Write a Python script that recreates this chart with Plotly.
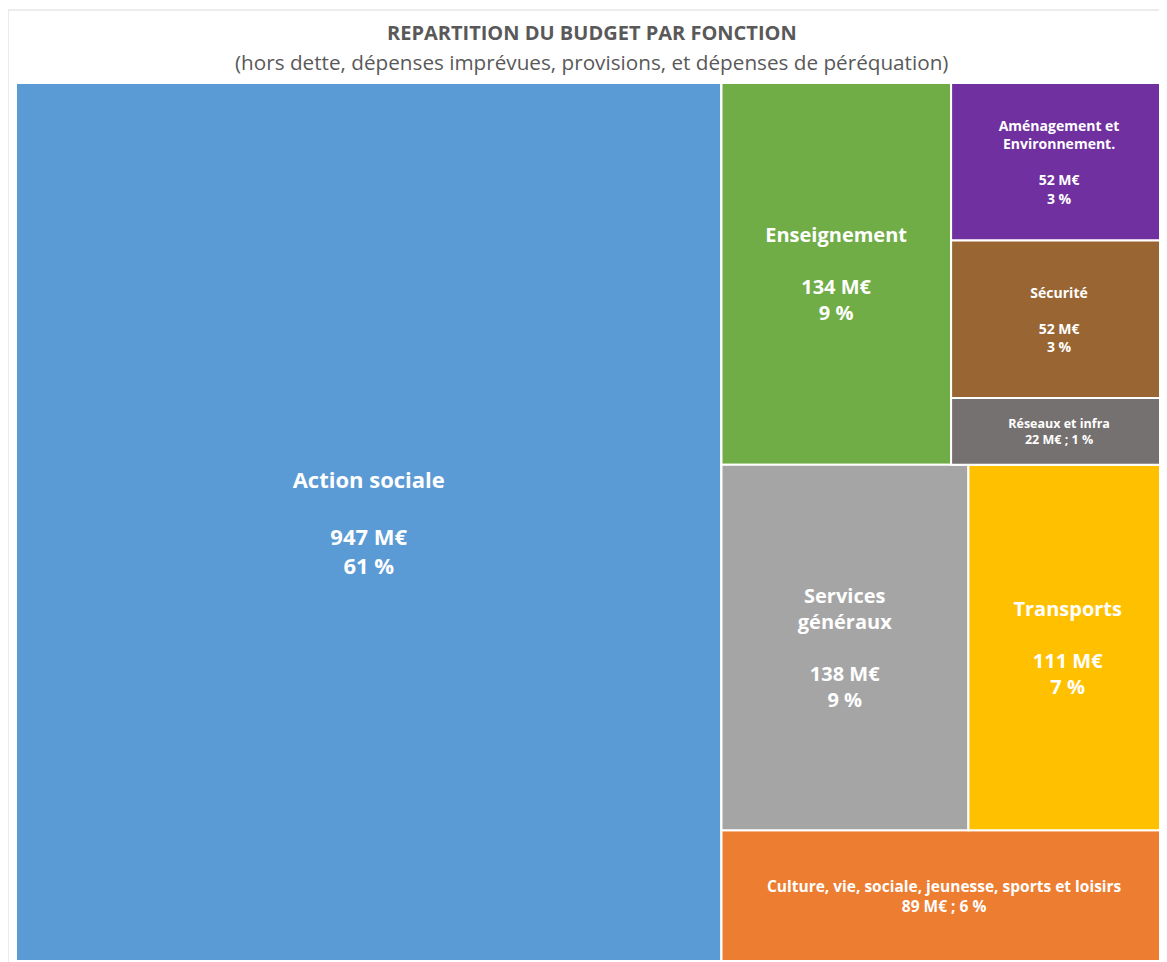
import plotly.graph_objects as go

# ---- data ----
categories = ["Action sociale", "Enseignement", "Aménagement et<br>Environnement.",
              "Sécurité", "Réseaux et infra", "Services<br>généraux", "Transports",
              "Culture, vie, sociale, jeunesse, sports et loisirs"]
values_meur = [947, 134, 52, 52, 22, 138, 111, 89]
# grouping used by the tiled layout (Excel-like arrangement)
group_of = ["root", "right/top", "right/top/col", "right/top/col", "right/top/col",
            "right/mid", "right/mid", "right"]
colors = ["#5B9BD5", "#70AD47", "#7030A0", "#996633", "#767171", "#A5A5A5", "#FFC000", "#ED7D31"]
font_sizes = [22, 20, 14, 14, 12.5, 20, 20, 15.5]
compact = [False, False, False, False, True, False, False, True]

total = sum(values_meur)

# hierarchy: (id, parent) in drawing order; leaves referenced by index
tree_order = [("root", ""), (0, "root"), ("right", "root"), ("right/top", "right"),
              (1, "right/top"), ("right/top/col", "right/top"), (2, None), (3, None), (4, None),
              ("right/mid", "right"), (5, None), (6, None), (7, None)]

ids, labels, parents, vals, texts, cols, sizes = [], [], [], [], [], [], []
for node, parent in tree_order:
    if isinstance(node, str):
        ids.append(node); labels.append(node); parents.append(parent); vals.append(0)
        texts.append(""); cols.append("#FFFFFF"); sizes.append(12)
    else:
        name, v = categories[node], values_meur[node]
        pct = round(100 * v / total)
        if compact[node]:
            t = f"<b>{name}<br>{v} M€ ; {pct} %</b>"
        else:
            t = f"<b>{name}<br><br>{v} M€<br>{pct} %</b>"
        ids.append("leaf:" + name); labels.append(name); parents.append(group_of[node])
        vals.append(v); texts.append(t); cols.append(colors[node]); sizes.append(font_sizes[node])

fig = go.Figure(go.Treemap(
    ids=ids, labels=labels, parents=parents, values=vals,
    branchvalues="remainder", sort=False,
    text=texts, textinfo="text", textposition="middle center",
    textfont=dict(family="Open Sans, Lato, sans-serif", color="white", size=sizes),
    marker=dict(colors=cols, line=dict(color="white", width=2),
                pad=dict(t=0, l=0, r=0, b=0)),
    tiling=dict(packing="slice-dice", pad=0),
    pathbar=dict(visible=False),
    hoverinfo="skip",
    domain=dict(x=[0, 1], y=[0, 1]),
))

fig.update_layout(
    width=1159, height=954,
    margin=dict(l=8, r=0, t=75, b=1),
    paper_bgcolor="white",
    font=dict(family="Open Sans, Lato, sans-serif"),
    annotations=[
        dict(text="<b>REPARTITION DU BUDGET PAR FONCTION</b>", xref="paper", yref="paper",
             x=0.5, y=1 + 51 / 878, xanchor="center", yanchor="middle", showarrow=False,
             font=dict(size=20, color="#595959", family="Open Sans, sans-serif")),
        dict(text="(hors dette, dépenses imprévues, provisions, et dépenses de péréquation)",
             xref="paper", yref="paper", x=0.5, y=1 + 21 / 878, xanchor="center",
             yanchor="middle", showarrow=False,
             font=dict(size=20.7, color="#595959", family="Open Sans, sans-serif")),
    ],
    shapes=[dict(type="rect", xref="paper", yref="paper", x0=-8 / 1151, x1=1.0,
                 y0=-0.01, y1=1 + 73 / 878, line=dict(color="#D9D9D9", width=1),
                 fillcolor="rgba(0,0,0,0)", layer="below")],
)

fig.write_html("out.html")
